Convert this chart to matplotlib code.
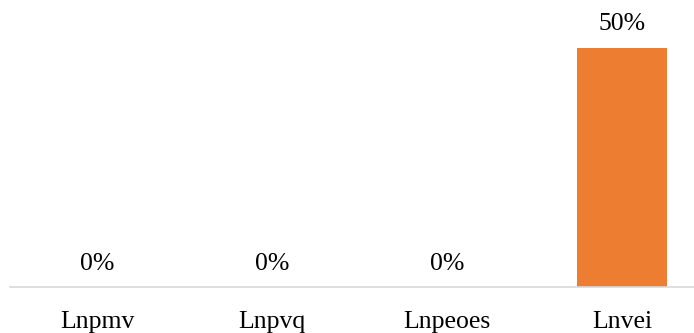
import matplotlib.pyplot as plt

plt.rcParams['font.family'] = ['Liberation Serif', 'DejaVu Serif']

categories = ["Lnpmv", "Lnpvq", "Lnpeoes", "Lnvei"]
values = [0.0, 0.0, 0.0, 0.5]
labels = ["0%", "0%", "0%", "50%"]

fig = plt.figure(figsize=(6.94, 3.33), dpi=100)
# plot area runs a little past the right edge, as in the original
ax = fig.add_axes([9.5 / 694, 46 / 333, 700 / 694, 287 / 333])

x = range(len(categories))
bars = ax.bar(x, values, width=0.514, color="#ED7D31")
for b, lab in zip(bars, labels):
    ax.annotate(lab, (b.get_x() + b.get_width() / 2, b.get_height()),
                xytext=(0, 12.6), textcoords="offset points",
                ha="center", va="baseline", fontsize=18.5, color="#000000")

ax.set_xlim(-0.5, len(categories) - 0.5)
ax.set_ylim(0, 0.6)
ax.set_xticks(list(x))
ax.set_xticklabels(categories, fontsize=18.5)
ax.tick_params(axis="x", length=0, pad=17)
ax.set_yticks([])
for s in ["top", "right", "left"]:
    ax.spines[s].set_visible(False)
ax.spines["bottom"].set_color("#D9D9D9")
ax.spines["bottom"].set_linewidth(1.2)

fig.savefig("out.png", dpi=100)
